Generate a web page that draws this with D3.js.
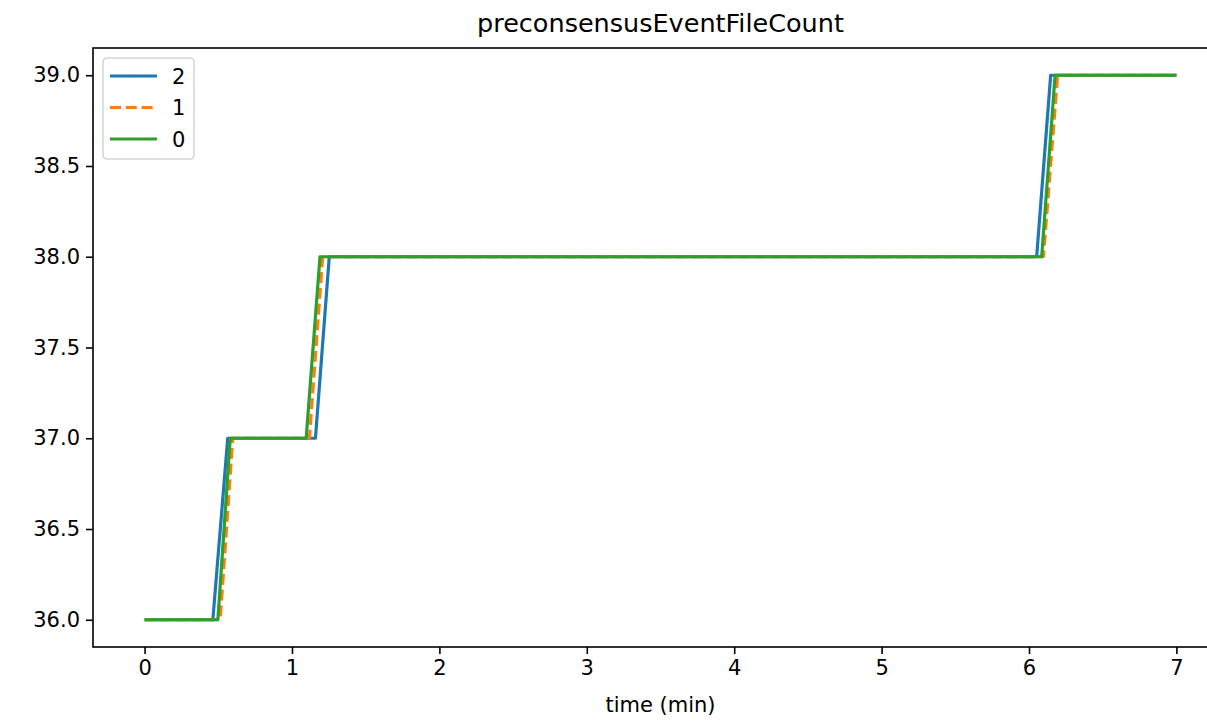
<!DOCTYPE html>
<html>
<head>
	<meta charset="utf-8">
	<title>preconsensusEventFileCount</title>
	<script src="https://cdn.jsdelivr.net/npm/d3@7"></script>
<style type="text/css">
body { margin: 0; background: #fff; }
svg { display: block; overflow: hidden; }
text { font-family: "DejaVu Sans", sans-serif; fill: #000; }
</style>
</head>
<body>
<script type="text/javascript">
	// series data, time in minutes
	var names = ["2", "1", "0"];
	var time2 = [0, 0.463, 0.564, 1.159, 1.253, 6.052, 6.147, 7.0];
	var vals2 = [36, 36, 37, 37, 38, 38, 39, 39];
	var time1 = [0, 0.513, 0.598, 1.118, 1.208, 6.098, 6.194, 7.0];
	var vals1 = [36, 36, 37, 37, 38, 38, 39, 39];
	var time0 = [0, 0.497, 0.581, 1.096, 1.190, 6.086, 6.177, 7.0];
	var vals0 = [36, 36, 37, 37, 38, 38, 39, 39];
	var xTicks = [0, 1, 2, 3, 4, 5, 6, 7];
	var yTicks = [36.0, 36.5, 37.0, 37.5, 38.0, 38.5, 39.0];

	var w = 1207, h = 721;
	var margin = {left: 93, right: -21, top: 48, bottom: 74};
	var width = w - margin.left - margin.right;
	var height = h - margin.top - margin.bottom;
	var fs = 21;

	var svg = d3.select("body").append("svg").attr("width", w).attr("height", h);
	var g = svg.append("g").attr("transform", "translate(" + margin.left + "," + margin.top + ")");

	var x = d3.scaleLinear().domain([-0.35, 7.35]).range([0, width]);
	var y = d3.scaleLinear().domain([35.85, 39.15]).range([height, 0]);

	var series = [
		{name: names[0], t: time2, v: vals2, color: "#1f77b4", dash: null},
		{name: names[1], t: time1, v: vals1, color: "#ff7f0e", dash: "11,4.8"},
		{name: names[2], t: time0, v: vals0, color: "#2ca02c", dash: null}
	];

	var line = d3.line()
		.x(function(d){ return x(d[0]); })
		.y(function(d){ return y(d[1]); });

	g.selectAll("path.series").data(series).enter().append("path")
		.attr("class", "series")
		.attr("fill", "none")
		.attr("stroke", function(d){ return d.color; })
		.attr("stroke-width", 3.2)
		.attr("stroke-dasharray", function(d){ return d.dash; })
		.attr("stroke-linejoin", "round")
		.attr("d", function(d){ return line(d.t.map(function(t, i){ return [t, d.v[i]]; })); });

	// axes
	var xaxis = d3.axisBottom(x).tickValues(xTicks).tickFormat(d3.format("d")).tickSize(7).tickPadding(6).tickSizeOuter(0);
	var yaxis = d3.axisLeft(y).tickValues(yTicks).tickFormat(d3.format(".1f")).tickSize(7).tickPadding(6).tickSizeOuter(0);
	var gx = g.append("g").attr("transform", "translate(0," + height + ")").call(xaxis);
	var gy = g.append("g").call(yaxis);
	[gx, gy].forEach(function(a){
		a.select(".domain").remove();
		a.selectAll("line").attr("stroke", "#000").attr("stroke-width", 1.6);
		a.selectAll("text").attr("font-size", fs).attr("font-family", "DejaVu Sans");
	});

	// frame
	g.append("rect").attr("width", width).attr("height", height)
		.attr("fill", "none").attr("stroke", "#000").attr("stroke-width", 1.6);

	// title and label
	svg.append("text").attr("x", margin.left + width / 2).attr("y", 32)
		.attr("text-anchor", "middle").attr("font-size", 25.5).text("preconsensusEventFileCount");
	svg.append("text").attr("x", margin.left + width / 2).attr("y", 712)
		.attr("text-anchor", "middle").attr("font-size", fs).text("time (min)");

	// legend
	var lg = svg.append("g").attr("transform", "translate(103,58)");
	lg.append("rect").attr("width", 91).attr("height", 101).attr("rx", 4)
		.attr("fill", "#fff").attr("fill-opacity", 0.8)
		.attr("stroke", "#d6d6d6").attr("stroke-width", 1.6);
	var items = lg.selectAll("g.item").data(series).enter().append("g")
		.attr("transform", function(d, i){ return "translate(0," + (18 + i * 31.5) + ")"; });
	items.append("line").attr("x1", 7).attr("x2", 54)
		.attr("stroke", function(d){ return d.color; })
		.attr("stroke-width", 3.2)
		.attr("stroke-dasharray", function(d){ return d.dash; });
	items.append("text").attr("x", 69).attr("y", 7.5).attr("font-size", fs)
		.text(function(d){ return d.name; });
</script>
</body>
</html>
